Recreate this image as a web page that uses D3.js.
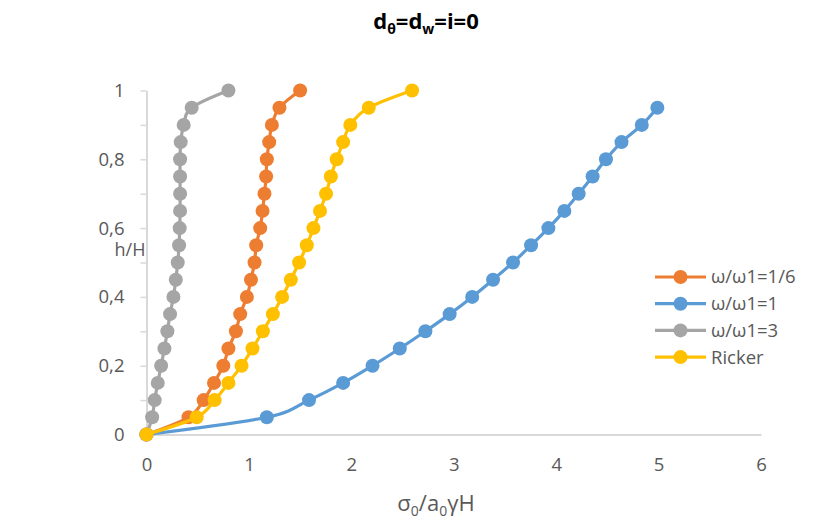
<!DOCTYPE html>
<html>
<head>
<meta charset="utf-8">
<script src="https://cdn.jsdelivr.net/npm/d3@7"></script>
<style>
  body { margin: 0; background: #fff; }
  text { font-family: "Open Sans", sans-serif; }
</style>
</head>
<body>
<div id="chartbox"></div>
<script>
// h/H levels shared by the series
var hLevels = [0, 0.05, 0.1, 0.15, 0.2, 0.25, 0.3, 0.35, 0.4, 0.45, 0.5,
               0.55, 0.6, 0.65, 0.7, 0.75, 0.8, 0.85, 0.9, 0.95, 1];

// sigma0/a0*gamma*H values
var xSixth  = [0, 0.41, 0.558, 0.659, 0.75, 0.80, 0.873, 0.915, 0.98, 1.02, 1.055,
               1.071, 1.11, 1.133, 1.152, 1.168, 1.175, 1.198, 1.224, 1.298, 1.50];
var xOne    = [0, 1.175, 1.587, 1.92, 2.207, 2.473, 2.723, 2.96, 3.18, 3.384, 3.579,
               3.755, 3.924, 4.08, 4.22, 4.356, 4.486, 4.638, 4.836, 4.988];
var xThree  = [0, 0.055, 0.08, 0.11, 0.143, 0.175, 0.204, 0.23, 0.263, 0.286, 0.305,
               0.318, 0.324, 0.328, 0.328, 0.328, 0.328, 0.334, 0.363, 0.441, 0.80];
var xRicker = [0, 0.49, 0.665, 0.80, 0.928, 1.035, 1.136, 1.234, 1.324, 1.409, 1.49,
               1.565, 1.63, 1.694, 1.753, 1.80, 1.857, 1.92, 1.99, 2.17, 2.593];

var seriesNames = ["ω/ω1=1/6", "ω/ω1=1", "ω/ω1=3", "Ricker"];
var seriesColors = ["#ED7D31", "#5B9BD5", "#A5A5A5", "#FFC000"];
var xTicks = [0, 1, 2, 3, 4, 5, 6];
var yTicks = [0, 0.2, 0.4, 0.6, 0.8, 1];
var yMinorTicks = [0, 0.1, 0.2, 0.3, 0.4, 0.5, 0.6, 0.7, 0.8, 0.9, 1];

var series = [xSixth, xOne, xThree, xRicker].map(function (xs, i) {
  return {
    name: seriesNames[i],
    color: seriesColors[i],
    points: xs.map(function (v, j) { return { x: v, y: hLevels[j] }; })
  };
});

var W = 814, H = 525;
var margin = { top: 90.5, right: 53, bottom: 90.5, left: 146.5 },
    width = W - margin.left - margin.right,
    height = H - margin.top - margin.bottom;

var svg = d3.select('#chartbox').append('svg')
    .attr('width', W)
    .attr('height', H);

var g = svg.append('g')
    .attr('transform', 'translate(' + [margin.left, margin.top] + ')');

var x = d3.scaleLinear().domain([0, 6]).range([0, width]);
var y = d3.scaleLinear().domain([0, 1]).range([height, 0]);

// title
var title = svg.append('text')
    .attr('x', 426).attr('y', 29)
    .attr('text-anchor', 'middle')
    .style('font-size', '22px').style('font-weight', 'bold').style('fill', '#000');
title.append('tspan').text('d');
title.append('tspan').text('θ').style('font-size', '14px').attr('dy', 5);
title.append('tspan').text('=d').attr('dy', -5);
title.append('tspan').text('w').style('font-size', '14px').attr('dy', 5);
title.append('tspan').text('=i=0').attr('dy', -5);

// x axis
var xAxis = g.append('g')
    .attr('transform', 'translate(0,' + height + ')')
    .call(d3.axisBottom(x).tickValues(xTicks).tickSize(0).tickPadding(23).tickFormat(d3.format('d')));
xAxis.select('.domain').attr('stroke', '#D9D9D9').attr('stroke-width', 2);
xAxis.selectAll('text').style('font-size', '18.5px').style('fill', '#595959');

// y axis: minor ticks every 0.1, labels every 0.2
var yAxis = g.append('g')
    .call(d3.axisLeft(y).tickValues(yMinorTicks).tickSize(6).tickSizeOuter(0).tickFormat(''));
yAxis.select('.domain').attr('stroke', '#D9D9D9').attr('stroke-width', 2);
yAxis.selectAll('.tick line').attr('stroke', '#D9D9D9').attr('stroke-width', 1.5);
var yLabels = g.append('g')
    .call(d3.axisLeft(y).tickValues(yTicks).tickSize(0).tickPadding(22)
      .tickFormat(function (d) { return d3.format('.1~f')(d).replace('.', ','); }));
yLabels.select('.domain').remove();
yLabels.selectAll('text').style('font-size', '18.5px').style('fill', '#595959');

// axis titles
svg.append('text')
    .attr('x', 130).attr('y', 256)
    .attr('text-anchor', 'middle')
    .style('font-size', '18px').style('fill', '#595959')
    .text('h/H');

var xt = svg.append('text')
    .attr('x', 436).attr('y', 511)
    .attr('text-anchor', 'middle')
    .style('font-size', '22px').style('fill', '#595959');
xt.append('tspan').text('σ');
xt.append('tspan').text('0').style('font-size', '14px').attr('dy', 5);
xt.append('tspan').text('/a').attr('dy', -5);
xt.append('tspan').text('0').style('font-size', '14px').attr('dy', 5);
xt.append('tspan').text('γH').attr('dy', -5);

// series
var line = d3.line()
    .x(function (d) { return x(d.x); })
    .y(function (d) { return y(d.y); })
    .curve(d3.curveCardinal.tension(0));

var sg = g.selectAll('.series')
    .data(series)
    .enter().append('g').attr('class', 'series');

sg.append('path')
    .attr('d', function (d) { return line(d.points); })
    .attr('fill', 'none')
    .attr('stroke', function (d) { return d.color; })
    .attr('stroke-width', 3.2)
    .attr('stroke-linejoin', 'round');

sg.selectAll('circle')
    .data(function (d) { return d.points.map(function (p) { return { p: p, color: d.color }; }); })
    .enter().append('circle')
    .attr('cx', function (d) { return x(d.p.x); })
    .attr('cy', function (d) { return y(d.p.y); })
    .attr('r', 7)
    .attr('fill', function (d) { return d.color; });

// legend
var legend = svg.append('g')
    .attr('transform', 'translate(655,277)');
var li = legend.selectAll('g')
    .data(series)
    .enter().append('g')
    .attr('transform', function (d, i) { return 'translate(0,' + (i * 26.7) + ')'; });
li.append('line')
    .attr('x1', 0).attr('x2', 51)
    .attr('stroke', function (d) { return d.color; })
    .attr('stroke-width', 3.2);
li.append('circle')
    .attr('cx', 25.5).attr('r', 7)
    .attr('fill', function (d) { return d.color; });
li.append('text')
    .attr('x', 56).attr('dy', '0.35em')
    .style('font-size', '18.5px').style('fill', '#595959')
    .text(function (d) { return d.name; });
</script>
</body>
</html>
